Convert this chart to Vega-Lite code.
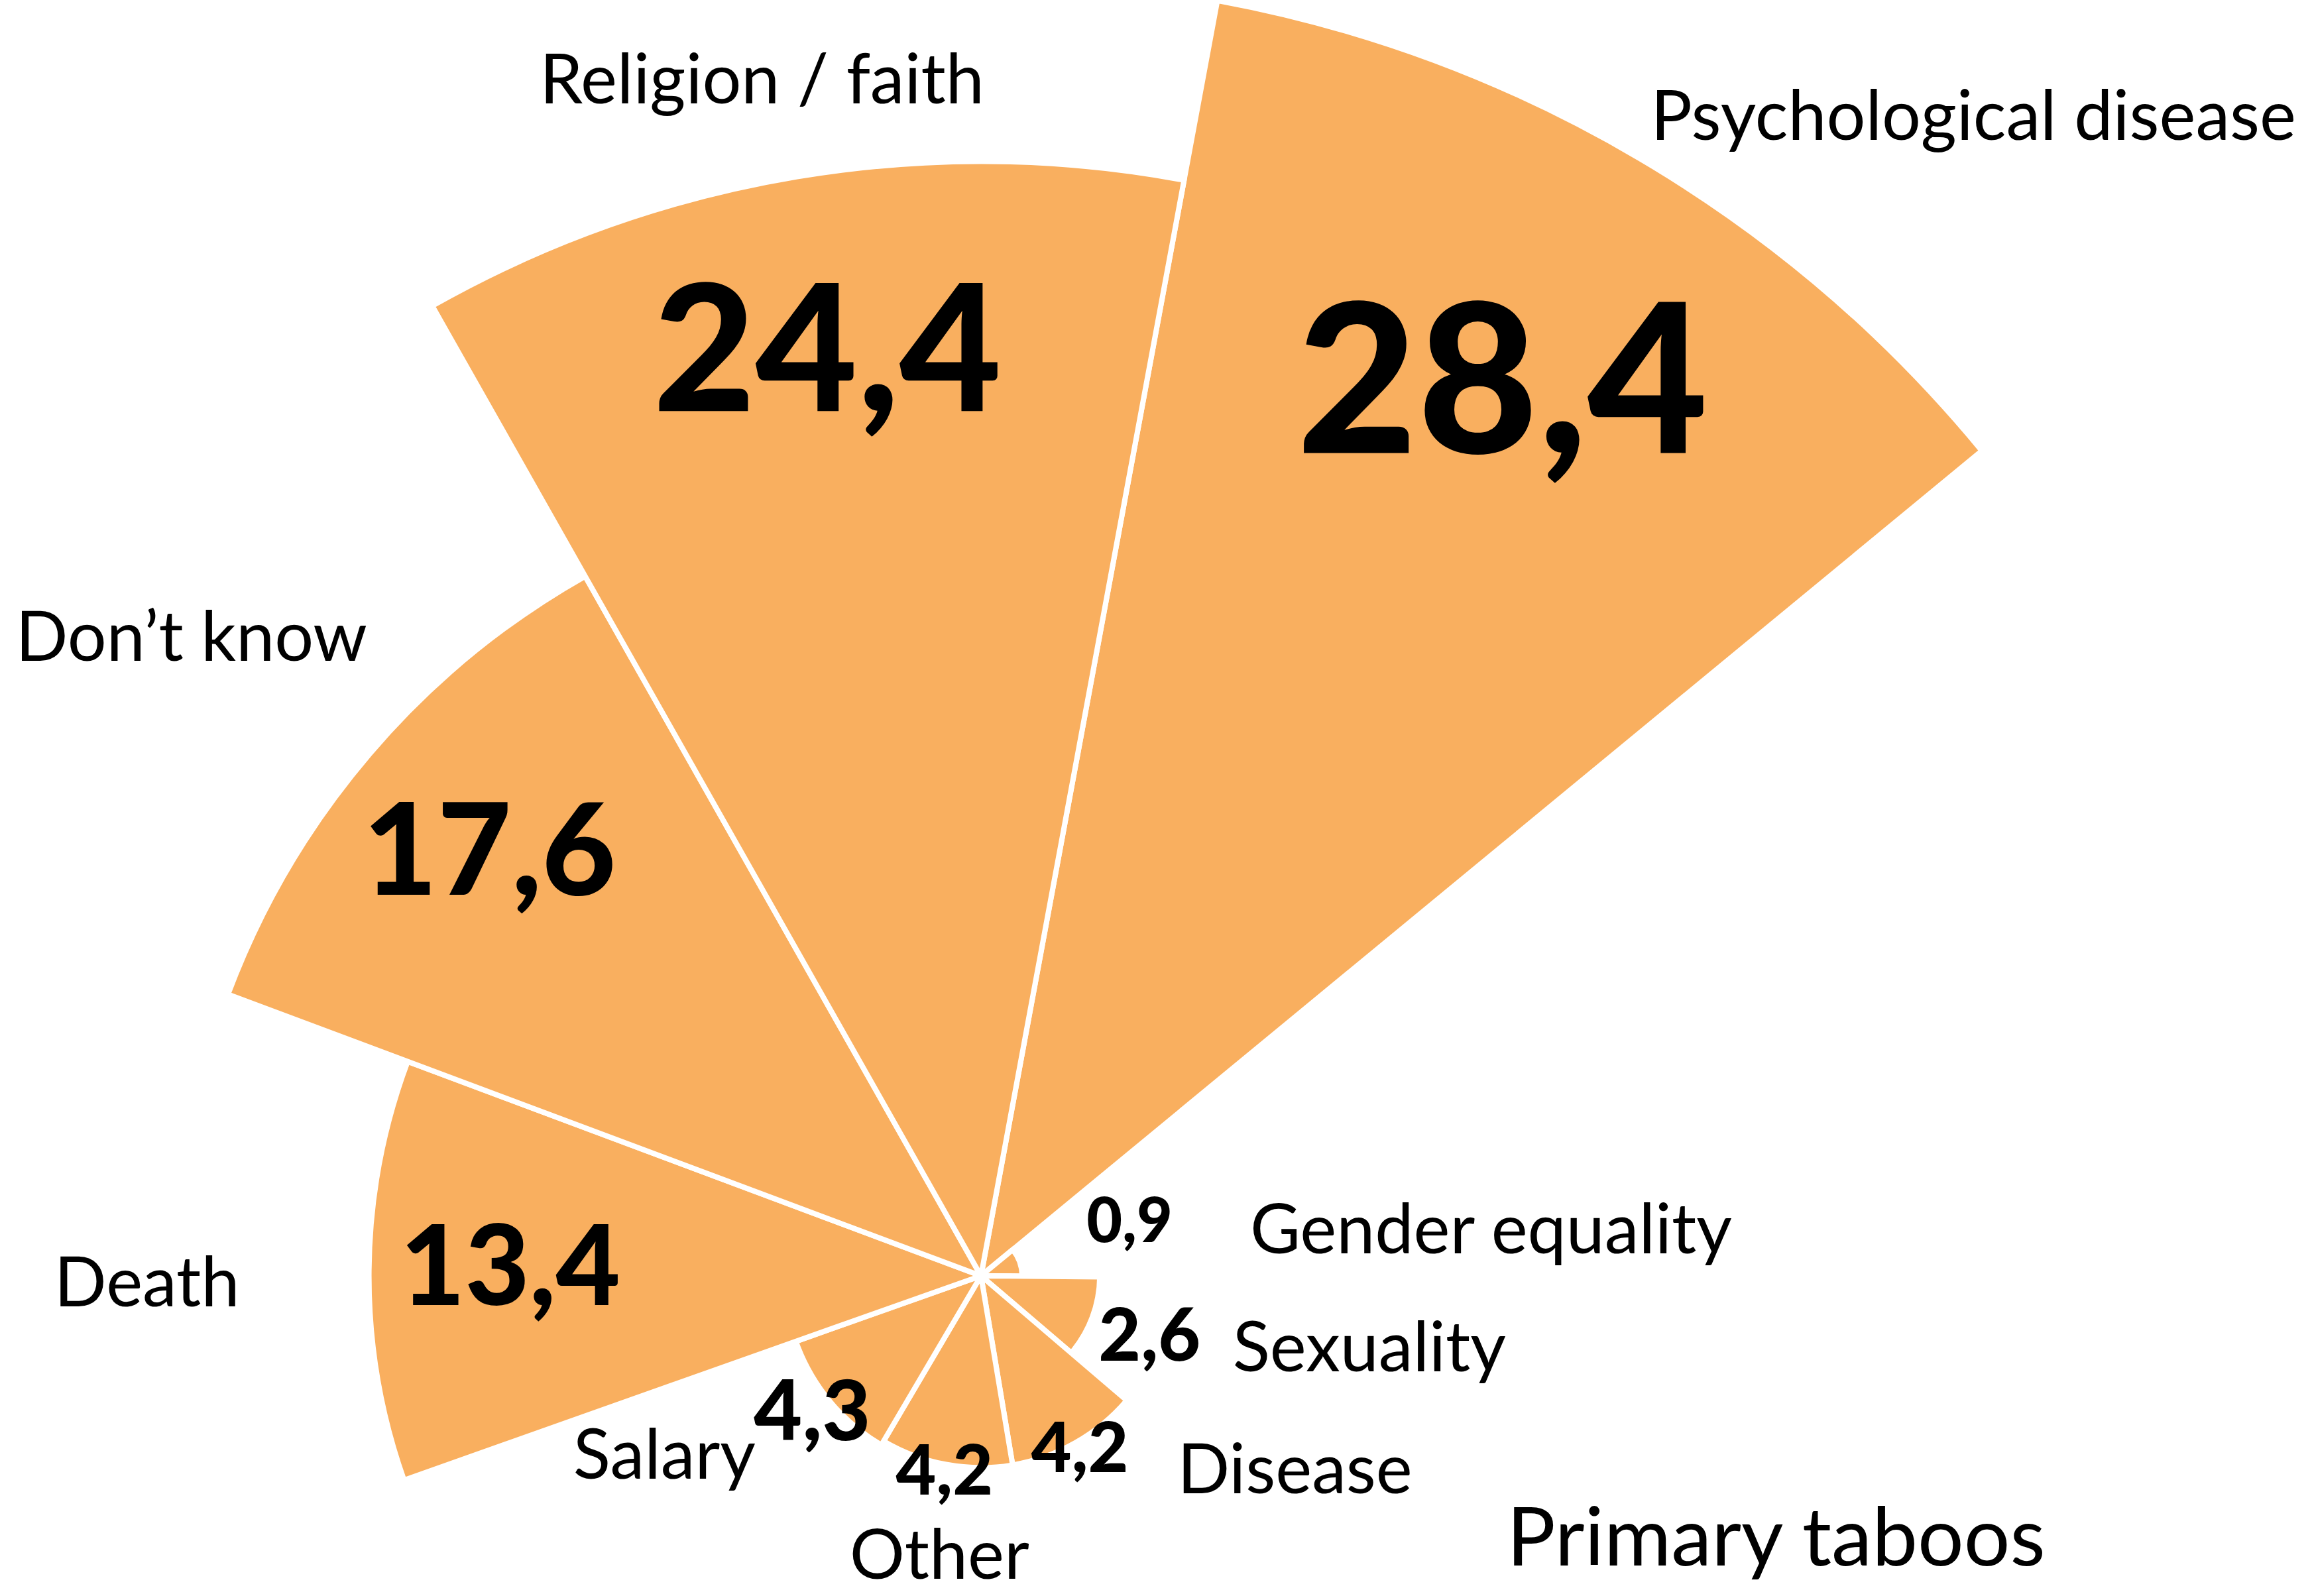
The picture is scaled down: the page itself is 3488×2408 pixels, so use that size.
{
  "$schema": "https://vega.github.io/schema/vega-lite/v6.json",
  "width": 3488,
  "height": 2408,
  "autosize": "none",
  "padding": 0,
  "background": "white",
  "config": {
    "view": {"stroke": null},
    "locale": {"number": {"decimal": ",", "thousands": ".", "grouping": [3], "currency": ["", " €"]}}
  },
  "title": {
    "text": "Primary taboos",
    "orient": "bottom",
    "anchor": "start",
    "frame": "group",
    "dx": 2273,
    "offset": -46,
    "baseline": "alphabetic",
    "font": "Lato",
    "fontSize": 123,
    "fontWeight": "normal",
    "color": "black"
  },
  "data": {
    "values": [
      {"category": "Psychological disease", "value": 28.4, "ord": 1, "share": 1},
      {"category": "Gender equality", "value": 0.9, "ord": 2, "share": 1},
      {"category": "Sexuality", "value": 2.6, "ord": 3, "share": 1},
      {"category": "Disease", "value": 4.2, "ord": 4, "share": 1},
      {"category": "Other", "value": 4.2, "ord": 5, "share": 1},
      {"category": "Salary", "value": 4.3, "ord": 6, "share": 1},
      {"category": "Death", "value": 13.4, "ord": 7, "share": 1},
      {"category": "Don’t know", "value": 17.6, "ord": 8, "share": 1},
      {"category": "Religion / faith", "value": 24.4, "ord": 9, "share": 1}
    ]
  },
  "resolve": {"scale": {"theta": "independent", "radius": "independent", "size": "independent"}},
  "layer": [
    {
      "transform": [
        {"stack": "share", "groupby": [], "sort": [{"field": "ord", "order": "ascending"}], "as": ["t0", "t1"]}
      ],
      "mark": {"type": "arc", "x": {"expr": "width*0.4243"}, "y": {"expr": "height*0.7994"}, "fill": "#F9AF5F", "stroke": "white", "strokeWidth": 8},
      "encoding": {
        "theta": {"field": "t0", "type": "quantitative", "scale": {"domain": [0, 9], "range": [0.18326, 6.46645], "zero": false}},
        "theta2": {"field": "t1"},
        "radius": {"field": "value", "type": "quantitative", "scale": {"type": "linear", "domain": [0, 28.4], "range": [0, 1957], "zero": true}}
      }
    },
    {
      "mark": {"type": "text", "x": {"expr": "width*0.4243"}, "y": {"expr": "height*0.7994"}, "font": "Lato", "fontWeight": 900, "align": "center", "baseline": "middle", "color": "black"},
      "encoding": {
        "theta": {"field": "ord", "type": "quantitative", "scale": {"domain": [0.5, 9.5], "range": [0.18326, 6.46645], "zero": false}},
        "radius": {"field": "value", "type": "quantitative", "scale": {"type": "linear", "domain": [0, 4.2, 4.3, 13.4, 24.4, 28.4], "range": [220, 303, 330, 710, 1404, 1550], "zero": false}},
        "size": {"field": "value", "type": "quantitative", "legend": null, "scale": {"type": "linear", "domain": [0.9, 2.6, 4.2, 4.3, 13.4, 17.6, 24.4, 28.4], "range": [93, 110, 105, 126, 168, 193, 266, 314], "zero": false}},
        "text": {"field": "value", "type": "quantitative", "format": ".1f"}
      }
    },
    {
      "transform": [{"filter": "datum.ord === 1"}],
      "mark": {"type": "text", "x": {"expr": "width*0.4243"}, "y": {"expr": "height*0.7994"}, "font": "Lato", "fontSize": 104, "align": "center", "baseline": "alphabetic", "color": "black", "dx": 504, "dy": -28},
      "encoding": {
        "theta": {"field": "ord", "type": "quantitative", "scale": {"domain": [0.5, 9.5], "range": [0.18326, 6.46645], "zero": false}},
        "radius": {"field": "value", "type": "quantitative", "scale": {"type": "linear", "domain": [0, 28.4], "range": [0, 1957], "zero": true}},
        "text": {"field": "category", "type": "nominal"}
      }
    },
    {
      "transform": [{"filter": "datum.ord === 2"}],
      "mark": {"type": "text", "x": {"expr": "width*0.4243"}, "y": {"expr": "height*0.7994"}, "font": "Lato", "fontSize": 104, "align": "center", "baseline": "alphabetic", "color": "black", "dx": 711, "dy": -13},
      "encoding": {
        "theta": {"field": "ord", "type": "quantitative", "scale": {"domain": [0.5, 9.5], "range": [0.18326, 6.46645], "zero": false}},
        "radius": {"field": "value", "type": "quantitative", "scale": {"type": "linear", "domain": [0, 28.4], "range": [0, 1957], "zero": true}},
        "text": {"field": "category", "type": "nominal"}
      }
    },
    {
      "transform": [{"filter": "datum.ord === 3"}],
      "mark": {"type": "text", "x": {"expr": "width*0.4243"}, "y": {"expr": "height*0.7994"}, "font": "Lato", "fontSize": 104, "align": "center", "baseline": "alphabetic", "color": "black", "dx": 418, "dy": 81},
      "encoding": {
        "theta": {"field": "ord", "type": "quantitative", "scale": {"domain": [0.5, 9.5], "range": [0.18326, 6.46645], "zero": false}},
        "radius": {"field": "value", "type": "quantitative", "scale": {"type": "linear", "domain": [0, 28.4], "range": [0, 1957], "zero": true}},
        "text": {"field": "category", "type": "nominal"}
      }
    },
    {
      "transform": [{"filter": "datum.ord === 4"}],
      "mark": {"type": "text", "x": {"expr": "width*0.4243"}, "y": {"expr": "height*0.7994"}, "font": "Lato", "fontSize": 104, "align": "center", "baseline": "alphabetic", "color": "black", "dx": 331, "dy": 76},
      "encoding": {
        "theta": {"field": "ord", "type": "quantitative", "scale": {"domain": [0.5, 9.5], "range": [0.18326, 6.46645], "zero": false}},
        "radius": {"field": "value", "type": "quantitative", "scale": {"type": "linear", "domain": [0, 28.4], "range": [0, 1957], "zero": true}},
        "text": {"field": "category", "type": "nominal"}
      }
    },
    {
      "transform": [{"filter": "datum.ord === 5"}],
      "mark": {"type": "text", "x": {"expr": "width*0.4243"}, "y": {"expr": "height*0.7994"}, "font": "Lato", "fontSize": 104, "align": "center", "baseline": "alphabetic", "color": "black", "dx": -10, "dy": 172},
      "encoding": {
        "theta": {"field": "ord", "type": "quantitative", "scale": {"domain": [0.5, 9.5], "range": [0.18326, 6.46645], "zero": false}},
        "radius": {"field": "value", "type": "quantitative", "scale": {"type": "linear", "domain": [0, 28.4], "range": [0, 1957], "zero": true}},
        "text": {"field": "category", "type": "nominal"}
      }
    },
    {
      "transform": [{"filter": "datum.ord === 6"}],
      "mark": {"type": "text", "x": {"expr": "width*0.4243"}, "y": {"expr": "height*0.7994"}, "font": "Lato", "fontSize": 104, "align": "center", "baseline": "alphabetic", "color": "black", "dx": -249, "dy": 118},
      "encoding": {
        "theta": {"field": "ord", "type": "quantitative", "scale": {"domain": [0.5, 9.5], "range": [0.18326, 6.46645], "zero": false}},
        "radius": {"field": "value", "type": "quantitative", "scale": {"type": "linear", "domain": [0, 28.4], "range": [0, 1957], "zero": true}},
        "text": {"field": "category", "type": "nominal"}
      }
    },
    {
      "transform": [{"filter": "datum.ord === 7"}],
      "mark": {"type": "text", "x": {"expr": "width*0.4243"}, "y": {"expr": "height*0.7994"}, "font": "Lato", "fontSize": 104, "align": "center", "baseline": "alphabetic", "color": "black", "dx": -335, "dy": 54},
      "encoding": {
        "theta": {"field": "ord", "type": "quantitative", "scale": {"domain": [0.5, 9.5], "range": [0.18326, 6.46645], "zero": false}},
        "radius": {"field": "value", "type": "quantitative", "scale": {"type": "linear", "domain": [0, 28.4], "range": [0, 1957], "zero": true}},
        "text": {"field": "category", "type": "nominal"}
      }
    },
    {
      "transform": [{"filter": "datum.ord === 8"}],
      "mark": {"type": "text", "x": {"expr": "width*0.4243"}, "y": {"expr": "height*0.7994"}, "font": "Lato", "fontSize": 104, "align": "center", "baseline": "alphabetic", "color": "black", "dx": -269, "dy": -140},
      "encoding": {
        "theta": {"field": "ord", "type": "quantitative", "scale": {"domain": [0.5, 9.5], "range": [0.18326, 6.46645], "zero": false}},
        "radius": {"field": "value", "type": "quantitative", "scale": {"type": "linear", "domain": [0, 28.4], "range": [0, 1957], "zero": true}},
        "text": {"field": "category", "type": "nominal"}
      }
    },
    {
      "transform": [{"filter": "datum.ord === 9"}],
      "mark": {"type": "text", "x": {"expr": "width*0.4243"}, "y": {"expr": "height*0.7994"}, "font": "Lato", "fontSize": 104, "align": "center", "baseline": "alphabetic", "color": "black", "dx": -53, "dy": -111},
      "encoding": {
        "theta": {"field": "ord", "type": "quantitative", "scale": {"domain": [0.5, 9.5], "range": [0.18326, 6.46645], "zero": false}},
        "radius": {"field": "value", "type": "quantitative", "scale": {"type": "linear", "domain": [0, 28.4], "range": [0, 1957], "zero": true}},
        "text": {"field": "category", "type": "nominal"}
      }
    }
  ]
}
